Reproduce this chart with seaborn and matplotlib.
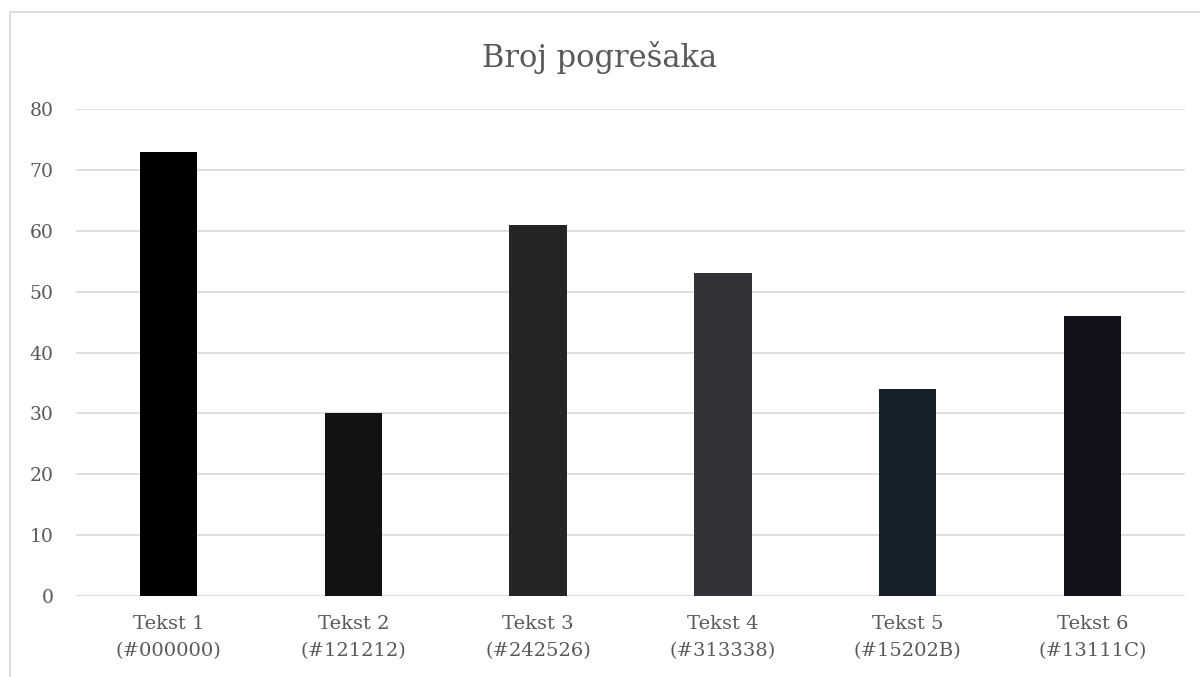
import matplotlib
matplotlib.use("Agg")
import matplotlib.pyplot as plt
import seaborn as sns
import pandas as pd
from matplotlib.patches import Rectangle

categories = ["Tekst 1\n(#000000)", "Tekst 2\n(#121212)", "Tekst 3\n(#242526)",
              "Tekst 4\n(#313338)", "Tekst 5\n(#15202B)", "Tekst 6\n(#13111C)"]
values = [73, 30, 61, 53, 34, 46]
colors = ["#000000", "#121212", "#242526", "#313338", "#15202B", "#13111C"]
yticks = [0, 10, 20, 30, 40, 50, 60, 70, 80]
title = "Broj pogrešaka"

sns.set_theme(style="white")
plt.rcParams['font.family'] = ['DejaVu Serif']

df = pd.DataFrame({"cat": categories, "val": values})

fig = plt.figure(figsize=(12, 6.77), dpi=100)
ax = fig.add_axes([76/1200, 1 - 596/677, (1185 - 76)/1200, (596 - 109)/677])

sns.barplot(data=df, x="cat", y="val", hue="cat", palette=colors, width=0.31,
            legend=False, ax=ax, saturation=1, linewidth=0)

ax.set_ylim(0, 80)
ax.set_xlim(-0.5, 5.5)
ax.set_yticks(yticks)
ax.yaxis.grid(True, color="#d9d9d9", linewidth=1.2)
ax.set_axisbelow(True)
for s in ax.spines.values():
    s.set_visible(False)
ax.set_xlabel("")
ax.set_ylabel("")
ax.tick_params(axis="y", length=0, pad=16, labelsize=13.5, labelcolor="#595959")
ax.tick_params(axis="x", length=0, pad=14, labelsize=14, labelcolor="#595959")
for lbl in ax.get_xticklabels():
    lbl.set_linespacing(1.6)

fig.text(0.5, 1 - 57/677, title, ha="center", va="center", fontsize=22, color="#595959")

fig.patches.append(Rectangle((10/1200, -0.1), 1.2, 1 - 11.5/677 + 0.1, transform=fig.transFigure,
                             fill=False, edgecolor="#d9d9d9", linewidth=1.3))

fig.savefig("out.png", dpi=100)
